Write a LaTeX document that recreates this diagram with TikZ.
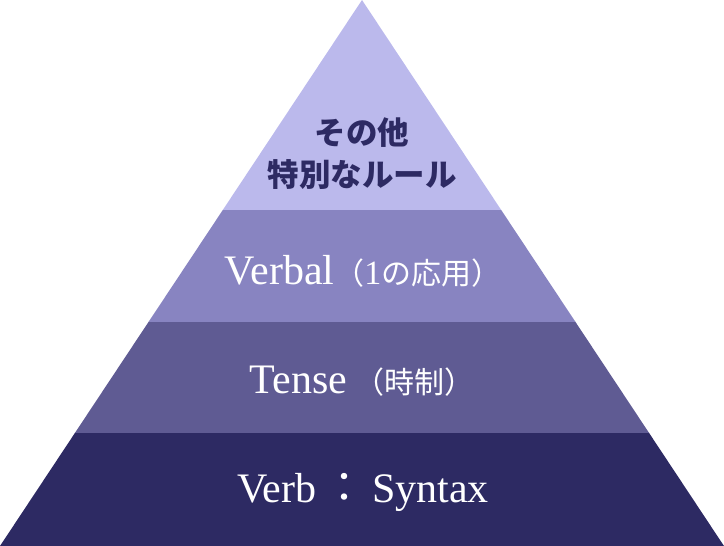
\documentclass[tikz,border=0pt]{standalone}
\usepackage{fontspec}
\setmainfont{Liberation Serif}
\newfontfamily\jpfont{Noto Sans CJK JP}
\usepackage{tikz}
\definecolor{layerA}{HTML}{BBB9EC}
\definecolor{layerB}{HTML}{8884C1}
\definecolor{layerC}{HTML}{5F5B93}
\definecolor{layerD}{HTML}{2D2A63}
\newcommand{\jp}[1]{{\jpfont #1}}

\begin{document}
\begin{tikzpicture}[x=1pt,y=1pt]
          \useasboundingbox (0,0) rectangle (724,546);
          \coordinate (L0) at (0,0);
          \coordinate (R0) at (724,0);
          \coordinate (L1) at (74.9,113);
          \coordinate (R1) at (649.1,113);
          \coordinate (L2) at (148.5,224);
          \coordinate (R2) at (575.5,224);
          \coordinate (L3) at (222.8,336);
          \coordinate (R3) at (501.2,336);
          \coordinate (top) at (362,546);
          \fill [layerD] (L0) -- (R0) -- (R1) -- (L1) -- cycle;
          \fill [layerC] (L1) -- (R1) -- (R2) -- (L2) -- cycle;
          \fill [layerB] (L2) -- (R2) -- (R3) -- (L3) -- cycle;
          \fill [layerA] (L3) -- (R3) -- (top) -- cycle;
          \begin{scope}[label/.style={white,anchor=base,inner sep=0pt,font=\fontsize{42}{42}\selectfont}]
            \node [label] (syntax) at (363,43) {Verb\,\jp{：}\,Syntax};
            \node [label] (tense) at (362,152) {Tense\,\jp{\fontsize{30}{30}\selectfont（時制）}};
            \node [label] (verbal) at (363,261) {Verbal\jp{\fontsize{30}{30}\selectfont（}{\fontsize{34}{34}\selectfont 1}\jp{\fontsize{30}{30}\selectfont の応用）}};
          \end{scope}
          \node [layerD,align=center,inner sep=0pt,font=\jpfont\bfseries\fontsize{31.5}{42}\selectfont] (other) at (362,392) {その他\\特別なルール};
        \end{tikzpicture}
\end{document}
